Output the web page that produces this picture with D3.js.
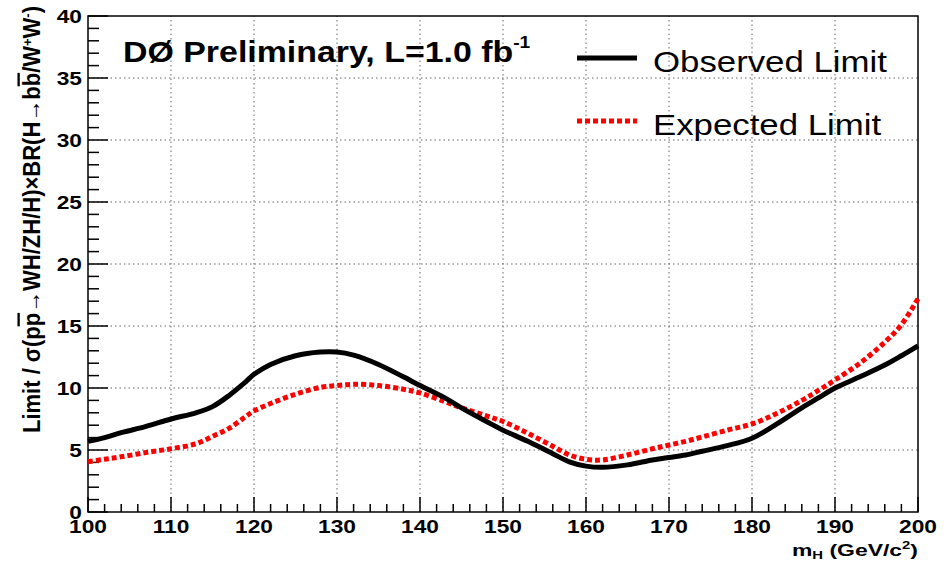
<!DOCTYPE html>
<html>
<head>
<meta charset="utf-8">
<script src="https://cdn.jsdelivr.net/npm/d3@7"></script>
<style>
  body { margin: 0; background: #fff; }
  svg { display: block; }
</style>
</head>
<body>
<div id="graphic"></div>
<script>
// Higgs mass points (GeV/c^2) and limit ratios
const masses   = [100, 102, 104, 107, 110, 113, 115, 117, 119, 120, 122, 125, 128, 130, 132, 135, 138, 140, 143, 145, 148, 150, 153, 156, 158, 160, 162, 165, 168, 170, 172, 174, 177, 180, 183, 186, 188, 190, 193, 196, 198, 200];
const observed = [5.7, 6.0, 6.4, 6.9, 7.5, 8.0, 8.5, 9.4, 10.5, 11.1, 11.9, 12.6, 12.9, 12.9, 12.65, 11.9, 10.9, 10.2, 9.2, 8.4, 7.3, 6.6, 5.7, 4.7, 4.05, 3.7, 3.6, 3.8, 4.2, 4.4, 4.6, 4.9, 5.35, 5.95, 7.1, 8.4, 9.2, 10.0, 10.9, 11.85, 12.6, 13.4];
const expected = [4.05, 4.25, 4.45, 4.8, 5.1, 5.5, 6.1, 6.75, 7.7, 8.15, 8.75, 9.5, 10.05, 10.2, 10.3, 10.2, 9.9, 9.6, 8.9, 8.4, 7.75, 7.3, 6.35, 5.3, 4.6, 4.25, 4.2, 4.6, 5.1, 5.4, 5.7, 6.05, 6.6, 7.1, 7.95, 9.0, 9.8, 10.65, 12.0, 13.7, 15.1, 17.2];

const xTicks = [100, 110, 120, 130, 140, 150, 160, 170, 180, 190, 200];
const yTicks = [0, 5, 10, 15, 20, 25, 30, 35, 40];
const seriesNames = ['Observed Limit', 'Expected Limit'];

const width = 950, height = 562;
const margin = {left: 88, right: 32, top: 16, bottom: 50};
const font = "'Liberation Sans', Arial, Helvetica, sans-serif";

const x = d3.scaleLinear().domain([100, 200]).range([margin.left, width - margin.right]);
const y = d3.scaleLinear().domain([0, 40]).range([height - margin.bottom, margin.top]);

const svg = d3.select("#graphic").append("svg")
  .attr("width", width)
  .attr("height", height)
  .attr("font-family", font);

// text with the horizontal stretch seen in the original picture
function stretched(g, px, py, sx, size, weight, anchor) {
  return g.append("text")
    .attr("transform", `translate(${px},${py}) scale(${sx},1)`)
    .attr("font-size", size)
    .attr("font-weight", weight)
    .attr("text-anchor", anchor);
}

// grid
const grid = svg.append("g").attr("stroke", "#666").attr("stroke-width", 1).attr("stroke-dasharray", "1.5,3");
grid.selectAll("line.v")
  .data(xTicks.slice(1, -1))
  .join("line")
    .attr("x1", d => x(d)).attr("x2", d => x(d))
    .attr("y1", y(0)).attr("y2", y(40));
grid.selectAll("line.h")
  .data(yTicks.slice(1, -1))
  .join("line")
    .attr("x1", x(100)).attr("x2", x(200))
    .attr("y1", d => y(d)).attr("y2", d => y(d));

// ticks (ROOT style, pointing inward)
const ticks = svg.append("g").attr("stroke", "#000").attr("stroke-width", 1.5);
ticks.selectAll("line.xt")
  .data(d3.range(100, 201, 2))
  .join("line")
    .attr("x1", d => x(d)).attr("x2", d => x(d))
    .attr("y1", y(0))
    .attr("y2", d => y(0) - (d % 10 == 0 ? 15 : 8));
ticks.selectAll("line.yt")
  .data(d3.range(0, 41, 1))
  .join("line")
    .attr("y1", d => y(d)).attr("y2", d => y(d))
    .attr("x1", x(100))
    .attr("x2", d => x(100) + (d % 5 == 0 ? 20 : 11));

// frame
svg.append("rect")
  .attr("x", x(100)).attr("y", y(40))
  .attr("width", x(200) - x(100)).attr("height", y(0) - y(40))
  .attr("fill", "none").attr("stroke", "#000").attr("stroke-width", 1.5);

// tick labels
const labels = svg.append("g");
xTicks.forEach(t => {
  stretched(labels, x(t), y(0) + 21, 1.3, 17.5, "bold", "middle").text(t);
});
yTicks.forEach(t => {
  stretched(labels, x(100) - 6, y(t) + 6.5, 1.3, 17.5, "bold", "end").text(t);
});

// curves
const line = d3.line()
  .x(d => x(d[0]))
  .y(d => y(d[1]))
  .curve(d3.curveCatmullRom.alpha(0.5));

svg.append("path")
  .datum(masses.map((m, i) => [m, expected[i]]))
  .attr("fill", "none")
  .attr("stroke", "#ff0000")
  .attr("stroke-width", 5)
  .attr("stroke-dasharray", "5,3")
  .attr("d", line);

svg.append("path")
  .datum(masses.map((m, i) => [m, observed[i]]))
  .attr("fill", "none")
  .attr("stroke", "#000")
  .attr("stroke-width", 5)
  .attr("stroke-linejoin", "round")
  .attr("d", line);

// legend
const legend = svg.append("g");
const legendY = [58, 121];
legend.append("line")
  .attr("x1", 577).attr("x2", 637).attr("y1", legendY[0]).attr("y2", legendY[0])
  .attr("stroke", "#000").attr("stroke-width", 5);
legend.append("line")
  .attr("x1", 577).attr("x2", 637).attr("y1", legendY[1]).attr("y2", legendY[1])
  .attr("stroke", "#ff0000").attr("stroke-width", 5).attr("stroke-dasharray", "5,3");
seriesNames.forEach((s, i) => {
  stretched(legend, 653, legendY[i] + 14, 1.16, 30, "normal", "start").text(s);
});

// title
const title = stretched(svg, 123, 62, 1.13, 30, "bold", "start");
title.append("tspan").text("DØ Preliminary, L=1.0 fb");
title.append("tspan").attr("font-size", 17).attr("dy", -14).text("-1");

// x axis title
const xt = stretched(svg, x(200), 556, 1.35, 17, "bold", "end");
xt.append("tspan").text("m");
xt.append("tspan").attr("font-size", 11).attr("dy", 3).text("H");
xt.append("tspan").attr("dy", -3).text(" (GeV/c");
xt.append("tspan").attr("font-size", 11).attr("dy", -7).text("2");
xt.append("tspan").attr("dy", 7).text(")");

// y axis title
const yt = svg.append("text")
  .attr("transform", "translate(40,6) rotate(-90) scale(1,1.05)")
  .attr("text-anchor", "end")
  .attr("font-size", 22)
  .attr("font-weight", "bold");
yt.append("tspan").text("Limit / σ(p");
yt.append("tspan").attr("text-decoration", "overline").text("p");
yt.append("tspan").text("→WH/ZH/H)×BR(H→b");
yt.append("tspan").attr("text-decoration", "overline").text("b");
yt.append("tspan").text("/W");
yt.append("tspan").attr("font-size", 13).attr("dy", -8).text("+");
yt.append("tspan").attr("dy", 8).text("W");
yt.append("tspan").attr("font-size", 13).attr("dy", -8).text("-");
yt.append("tspan").attr("dy", 8).text(")");
</script>
</body>
</html>
